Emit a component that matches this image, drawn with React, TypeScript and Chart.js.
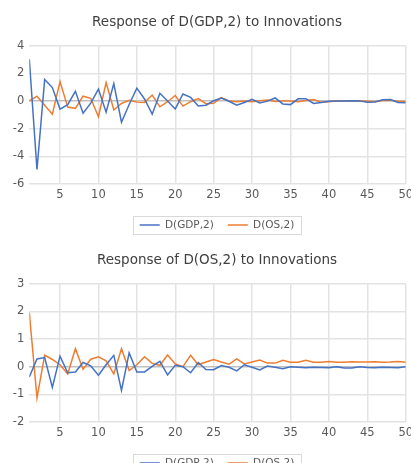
import React, { useEffect, useRef } from 'react';
import { Chart, registerables } from 'chart.js';

Chart.register(...registerables);

const periods = [1, 2, 3, 4, 5, 6, 7, 8, 9, 10, 11, 12, 13, 14, 15, 16, 17, 18, 19, 20, 21, 22, 23, 24, 25, 26, 27, 28, 29, 30, 31, 32, 33, 34, 35, 36, 37, 38, 39, 40, 41, 42, 43, 44, 45, 46, 47, 48, 49, 50];
const xTickValues = [5, 10, 15, 20, 25, 30, 35, 40, 45, 50];
const seriesNames = ['D(GDP,2)', 'D(OS,2)'];
const seriesColors = ['#4472C4', '#ED7D31'];

const topTitle = 'Response of D(GDP,2) to Innovations';
const topYTicks = [-6, -4, -2, 0, 2, 4];
const topGdp = [3.02, -4.95, 1.55, 0.97, -0.58, -0.26, 0.70, -0.88, -0.15, 0.86, -0.81, 1.26, -1.53, -0.25, 0.93, 0.15, -0.95, 0.56, 0.0, -0.57, 0.51, 0.26, -0.36, -0.30, 0.02, 0.22, -0.02, -0.30, -0.11, 0.12, -0.14, -0.01, 0.22, -0.21, -0.26, 0.16, 0.17, -0.18, -0.10, -0.02, 0.0, 0.0, 0.02, 0.01, -0.08, -0.07, 0.09, 0.11, -0.11, -0.12];
const topOs = [0.0, 0.35, -0.30, -0.95, 1.40, -0.44, -0.53, 0.35, 0.20, -1.14, 1.33, -0.65, -0.18, 0.05, -0.08, -0.10, 0.43, -0.42, -0.05, 0.40, -0.37, -0.05, 0.18, -0.19, -0.17, 0.25, 0.0, -0.05, 0.0, -0.05, 0.02, 0.08, -0.03, 0.0, 0.0, -0.05, 0.03, 0.10, -0.08, -0.05, 0.02, 0.0, 0.0, 0.02, -0.02, -0.05, 0.03, 0.05, -0.02, -0.03];

const bottomTitle = 'Response of D(OS,2) to Innovations';
const bottomYTicks = [-2, -1, 0, 1, 2, 3];
const bottomGdp = [-0.37, 0.28, 0.33, -0.75, 0.38, -0.22, -0.19, 0.15, 0.03, -0.31, 0.07, 0.41, -0.86, 0.50, -0.19, -0.19, 0.01, 0.19, -0.30, 0.05, 0.0, -0.22, 0.15, -0.10, -0.11, 0.04, -0.02, -0.15, 0.07, -0.02, -0.12, 0.02, -0.02, -0.07, 0.0, -0.02, -0.04, -0.02, -0.03, -0.04, 0.0, -0.05, -0.05, 0.0, -0.03, -0.04, -0.02, -0.03, -0.04, 0.0];
const bottomOs = [1.96, -1.13, 0.42, 0.26, 0.07, -0.26, 0.65, -0.09, 0.27, 0.36, 0.21, -0.26, 0.65, -0.14, 0.07, 0.36, 0.12, 0.05, 0.42, 0.10, 0.0, 0.41, 0.07, 0.17, 0.26, 0.17, 0.09, 0.28, 0.10, 0.17, 0.24, 0.13, 0.13, 0.23, 0.16, 0.16, 0.23, 0.16, 0.16, 0.19, 0.16, 0.16, 0.18, 0.17, 0.17, 0.18, 0.16, 0.17, 0.19, 0.16];

const FONT = "'DejaVu Sans', sans-serif";
const TEXT = '#595959';
const GRID = '#e3e3e3';

const legendBorder = {
  id: 'legendBorder',
  afterDraw(chart: any) {
    const lg = chart.legend;
    if (!lg || !lg.legendHitBoxes || !lg.legendHitBoxes.length) return;
    const hb = lg.legendHitBoxes;
    const first = hb[0];
    const last = hb[hb.length - 1];
    const ctx = chart.ctx;
    ctx.save();
    ctx.strokeStyle = '#d9d9d9';
    ctx.lineWidth = 1;
    const l = Math.round(first.left - 7) + 0.5;
    const r = Math.round(last.left + last.width + 7) + 0.5;
    const t = Math.round(first.top - 4) + 0.5;
    const b = Math.round(first.top + first.height + 4) + 0.5;
    ctx.strokeRect(l, t, r - l, b - t);
    ctx.restore();
  },
};

function Panel(props: { title: string; gdp: number[]; os: number[]; yTicks: number[]; top: number }) {
  const ref = useRef<HTMLCanvasElement | null>(null);
  const { title, gdp, os, yTicks, top } = props;
  useEffect(() => {
    if (!ref.current) return;
    const series = [gdp, os];
    const chart = new Chart(ref.current, {
      type: 'line',
      data: {
        datasets: series.map((vals, si) => ({
          label: seriesNames[si],
          data: periods.map((p, i) => ({ x: p, y: vals[i] })),
          borderColor: seriesColors[si],
          backgroundColor: seriesColors[si],
          borderWidth: 1.5,
          pointRadius: 0,
          tension: 0,
          fill: false,
        })),
      },
      options: {
        responsive: false,
        animation: false,
        devicePixelRatio: 1,
        layout: { padding: { left: 0, right: 0, top: 0, bottom: 1.7 } },
        plugins: {
          title: {
            display: true,
            text: title,
            color: '#404040',
            font: { family: FONT, size: 13.5, weight: 'normal' },
            padding: { top: 14, bottom: 15.5 },
          },
          legend: {
            position: 'bottom',
            labels: {
              usePointStyle: true,
              pointStyle: 'line',
              pointStyleWidth: 20,
              padding: 14,
              color: TEXT,
              font: { family: FONT, size: 10.5 },
            },
          },
          tooltip: { enabled: false },
        },
        scales: {
          x: {
            type: 'linear',
            min: periods[0],
            max: periods[periods.length - 1],
            afterBuildTicks: (s: any) => {
              s.ticks = xTickValues.map((v) => ({ value: v }));
            },
            grid: { color: GRID, lineWidth: 1.5, drawTicks: false },
            border: { display: false },
            ticks: { color: TEXT, font: { family: FONT, size: 11.5 }, padding: 4, maxRotation: 0 },
          },
          y: {
            type: 'linear',
            min: yTicks[0],
            max: yTicks[yTicks.length - 1],
            afterBuildTicks: (s: any) => {
              s.ticks = yTicks.map((v) => ({ value: v }));
            },
            afterFit: (s: any) => {
              s.width = 29.3;
            },
            grid: {
              color: (c: any) => (c.tick && c.tick.value === 0 ? '#bfbfbf' : GRID),
              lineWidth: 1.5,
              drawTicks: false,
            },
            border: { display: false },
            ticks: { color: TEXT, font: { family: FONT, size: 11.5 }, padding: 5 },
          },
          yr: {
            type: 'linear',
            position: 'right',
            display: true,
            grid: { display: false },
            border: { display: false },
            ticks: { display: false },
            afterFit: (s: any) => {
              s.width = 28.3;
            },
          },
        },
      } as any,
      plugins: [legendBorder],
    });
    return () => chart.destroy();
  }, []);
  return (
    <canvas
      ref={ref}
      width={434}
      height={242}
      style={{ position: 'absolute', left: 0, top, display: 'block', width: 434, height: 242 }}
    />
  );
}

export default function App() {
  return (
    <div
      style={{
        position: 'fixed',
        left: 0,
        top: 0,
        width: 411,
        height: 463,
        overflow: 'hidden',
        background: '#ffffff',
      }}
    >
      <Panel title={topTitle} gdp={topGdp} os={topOs} yTicks={topYTicks} top={0} />
      <Panel title={bottomTitle} gdp={bottomGdp} os={bottomOs} yTicks={bottomYTicks} top={238} />
    </div>
  );
}
